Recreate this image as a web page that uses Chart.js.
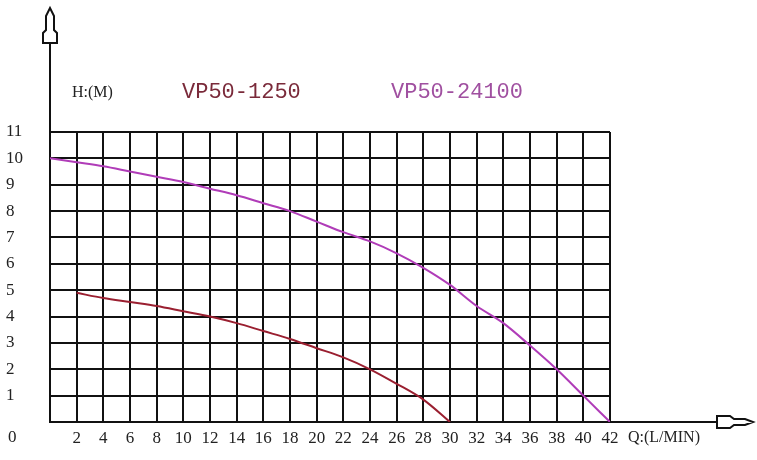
<!DOCTYPE html>
<html>
<head>
<meta charset="utf-8">
<script src="https://cdn.jsdelivr.net/npm/chart.js@4.4.1/dist/chart.umd.min.js"></script>
<style>
  html, body { margin: 0; padding: 0; background: #fff; }
  #wrap { width: 757px; height: 460px; position: relative; }
</style>
</head>
<body>
<div id="wrap"><canvas id="pump-chart"></canvas></div>
<script>
// flow Q (L/MIN) and head H (M)
var flowSmall = [2, 4, 6, 8, 10, 12, 14, 16, 18, 20, 22, 24, 26, 28, 30];
var headSmall = [4.9, 4.7, 4.55, 4.4, 4.2, 4.0, 3.75, 3.45, 3.15, 2.8, 2.45, 2.0, 1.45, 0.85, 0];
var flowBig = [0, 2, 4, 6, 8, 10, 12, 14, 16, 18, 20, 22, 24, 26, 28, 30, 32, 34, 36, 38, 40, 42];
var headBig = [10, 9.85, 9.7, 9.5, 9.3, 9.1, 8.85, 8.6, 8.3, 8.0, 7.6, 7.2, 6.85, 6.4, 5.85, 5.2, 4.4, 3.75, 2.9, 2.0, 1.0, 0];
var seriesNames = ["VP50-1250", "VP50-24100"];
var xMax = 42, yMax = 11;

function toPoints(xs, ys) {
  return xs.map(function (x, i) { return { x: x, y: ys[i] }; });
}

// axis arrows, titles and the shared "0" label
var decorations = {
  id: 'decorations',
  afterDraw: function (chart) {
    var ctx = chart.ctx;
    var a = chart.chartArea;
    ctx.save();
    ctx.strokeStyle = '#111';
    ctx.lineWidth = 2;
    ctx.fillStyle = '#fff';
    // y axis extension + arrow
    ctx.beginPath();
    ctx.moveTo(a.left, a.top);
    ctx.lineTo(a.left, 43);
    ctx.stroke();
    var cx = a.left;
    ctx.beginPath();
    ctx.moveTo(cx - 7, 43); ctx.lineTo(cx + 7, 43); ctx.lineTo(cx + 7, 33);
    ctx.lineTo(cx + 4, 30); ctx.lineTo(cx + 4, 16); ctx.lineTo(cx, 8);
    ctx.lineTo(cx - 4, 16); ctx.lineTo(cx - 4, 30); ctx.lineTo(cx - 7, 33);
    ctx.closePath();
    ctx.fill(); ctx.stroke();
    // x axis extension + arrow
    var cy = a.bottom;
    ctx.beginPath();
    ctx.moveTo(a.right, cy);
    ctx.lineTo(717, cy);
    ctx.stroke();
    ctx.beginPath();
    ctx.moveTo(717, cy - 6); ctx.lineTo(730, cy - 6); ctx.lineTo(734, cy - 3);
    ctx.lineTo(745, cy - 3); ctx.lineTo(753, cy); ctx.lineTo(745, cy + 3);
    ctx.lineTo(734, cy + 3); ctx.lineTo(730, cy + 6); ctx.lineTo(717, cy + 6);
    ctx.closePath();
    ctx.fill(); ctx.stroke();

    ctx.textBaseline = 'middle';
    ctx.textAlign = 'left';
    ctx.fillStyle = '#222';
    ctx.font = '16px "Liberation Serif"';
    ctx.fillText('H:(M)', 72, 93);
    ctx.fillText('Q:(L/MIN)', 628, 438);
    ctx.font = '17px "Liberation Serif"';
    ctx.fillText('0', 8, 438);
    ctx.font = '22px "Liberation Mono"';
    ctx.fillStyle = '#7a2a3a';
    ctx.fillText(seriesNames[0], 182, 92);
    ctx.fillStyle = '#a050a0';
    ctx.fillText(seriesNames[1], 391, 92);
    ctx.restore();
  }
};

var tickFont = { size: 17, family: 'Liberation Serif' };

new Chart(document.getElementById('pump-chart').getContext('2d'), {
  type: 'line',
  data: {
    datasets: [{
      label: seriesNames[0],
      data: toPoints(flowSmall, headSmall),
      borderColor: '#9a1f30',
      borderWidth: 2,
      pointRadius: 0,
      cubicInterpolationMode: 'monotone',
      fill: false
    }, {
      label: seriesNames[1],
      data: toPoints(flowBig, headBig),
      borderColor: '#b03cb8',
      borderWidth: 2,
      pointRadius: 0,
      cubicInterpolationMode: 'monotone',
      fill: false
    }]
  },
  options: {
    responsive: true,
    maintainAspectRatio: false,
    animation: false,
    layout: { padding: { top: 132, right: 147, left: 6, bottom: 0 } },
    plugins: {
      legend: { display: false },
      tooltip: { enabled: false }
    },
    scales: {
      x: {
        type: 'linear',
        min: 0,
        max: xMax,
        afterFit: function (scale) { scale.height = 38; },
        grid: { color: '#111', lineWidth: 2, drawTicks: false },
        border: { color: '#111', width: 2 },
        ticks: {
          stepSize: 2,
          padding: 6,
          color: '#222',
          font: tickFont,
          maxRotation: 0,
          autoSkip: false,
          callback: function (v) { return v === 0 ? '' : v; }
        }
      },
      y: {
        min: 0,
        max: yMax,
        afterFit: function (scale) { scale.width = 44; },
        grid: { color: '#111', lineWidth: 2, drawTicks: false },
        border: { color: '#111', width: 2 },
        ticks: {
          stepSize: 1,
          padding: 6,
          color: '#222',
          font: tickFont,
          crossAlign: 'far',
          callback: function (v) { return v === 0 ? '' : v; }
        }
      }
    }
  },
  plugins: [decorations]
});
</script>
</body>
</html>
